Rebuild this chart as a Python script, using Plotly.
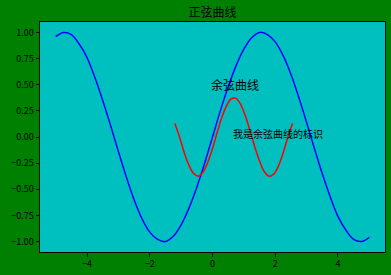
import plotly.graph_objects as go

# Sine curve (blue)
sin_x = [-5, -4.75, -4.5, -4.25, -4, -3.75, -3.5, -3.25, -3, -2.75, -2.5, -2.25, -2, -1.75,
         -1.5, -1.25, -1, -0.75, -0.5, -0.25, 0, 0.25, 0.5, 0.75, 1, 1.25, 1.5, 1.75, 2,
         2.25, 2.5, 2.75, 3, 3.25, 3.5, 3.75, 4, 4.25, 4.5, 4.75, 5]
sin_y = [0.96, 1.00, 0.98, 0.89, 0.76, 0.57, 0.35, 0.11, -0.14, -0.38, -0.60, -0.78, -0.91, -0.98,
         -1.00, -0.95, -0.84, -0.68, -0.48, -0.25, 0.00, 0.25, 0.48, 0.68, 0.84, 0.95, 1.00, 0.98, 0.91,
         0.78, 0.60, 0.38, 0.14, -0.11, -0.35, -0.57, -0.76, -0.89, -0.98, -1.00, -0.96]

# Cosine-like curve (red)
cos_x = [-1.2, -1.05, -0.9, -0.75, -0.6, -0.45, -0.3, -0.15, 0.0, 0.15, 0.3, 0.45, 0.6, 0.75,
         0.9, 1.05, 1.2, 1.35, 1.5, 1.65, 1.8, 1.95, 2.1, 2.25, 2.4, 2.55]
cos_y = [0.13, 0.0, -0.15, -0.27, -0.35, -0.375, -0.335, -0.24, -0.11, 0.045, 0.19, 0.30, 0.366, 0.37,
         0.31, 0.20, 0.056, -0.096, -0.23, -0.33, -0.374, -0.355, -0.28, -0.155, -0.005, 0.13]

x_ticks = [-4, -2, 0, 2, 4]
y_ticks = [-1.0, -0.75, -0.5, -0.25, 0.0, 0.25, 0.5, 0.75, 1.0]
y_tick_text = ["−1.00", "−0.75", "−0.50", "−0.25", "0.00", "0.25", "0.50", "0.75", "1.00"]

title = "正弦曲线"
label_main = "余弦曲线"
label_note = "我是余弦曲线的标识"

FONT = "Noto Sans CJK SC"

fig = go.Figure()
fig.add_trace(go.Scatter(x=sin_x, y=sin_y, mode="lines", line=dict(color="blue", width=1.5, shape="spline"),
                         showlegend=False, hoverinfo="skip"))
fig.add_trace(go.Scatter(x=cos_x, y=cos_y, mode="lines", line=dict(color="red", width=1.5, shape="spline"),
                         showlegend=False, hoverinfo="skip"))

fig.add_annotation(x=-0.12, y=0.5, text=label_main, showarrow=False, xanchor="left", yanchor="middle",
                   font=dict(family=FONT, size=12, color="black"))
fig.add_annotation(x=0.6, y=0.03, text=label_note, showarrow=False, xanchor="left", yanchor="middle",
                   font=dict(family=FONT, size=10, color="black"))

fig.update_layout(
    width=391, height=275,
    margin=dict(l=40, r=6, t=22, b=23),
    paper_bgcolor="green",
    plot_bgcolor="#00bfbf",
    title=dict(text=title, xref="paper", x=0.5, xanchor="center", y=0.955, yanchor="middle",
               font=dict(family=FONT, size=12, color="black")),
    font=dict(family=FONT, size=9, color="black"),
    xaxis=dict(range=[-5.5, 5.5], tickvals=x_ticks, showgrid=False, zeroline=False,
               showline=True, linecolor="black", linewidth=1, mirror=True,
               ticks="outside", ticklen=3.5, tickcolor="black", tickfont=dict(family=FONT, size=9)),
    yaxis=dict(range=[-1.1, 1.1], tickvals=y_ticks, ticktext=y_tick_text, showgrid=False, zeroline=False,
               showline=True, linecolor="black", linewidth=1, mirror=True,
               ticks="outside", ticklen=3.5, tickcolor="black", tickfont=dict(family=FONT, size=9)),
)

fig.write_html("out.html")
